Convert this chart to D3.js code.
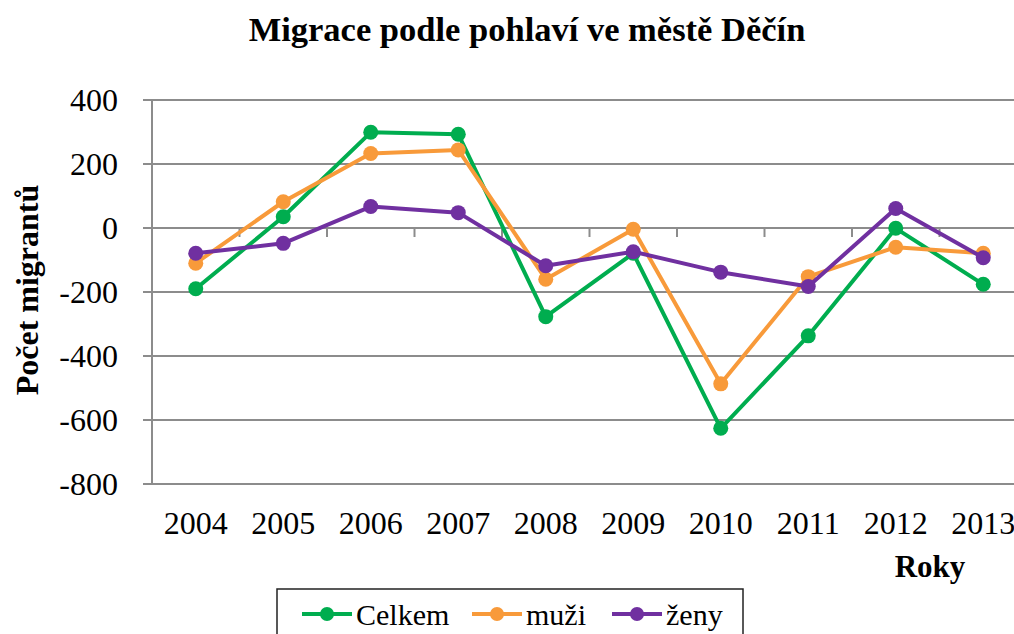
<html>
<head>
<meta charset="utf-8">
<script src="https://d3js.org/d3.v7.min.js"></script>
<style>
body { margin: 0; background: white; }
text { font-family: "Liberation Serif", "Times New Roman", serif; }
</style>
</head>
<body>
<svg width="1014" height="634" id="chart"></svg>
<script>

// data
var years = ["2004", "2005", "2006", "2007", "2008", "2009", "2010", "2011", "2012", "2013"];
var celkem = [-190, 35, 299, 293, -277, -79, -626, -337, -1, -176];
var muzi = [-110, 82, 233, 244, -160, -4, -487, -152, -60, -79];
var zeny = [-79, -48, 67, 48, -118, -74, -138, -183, 61, -93];
var yTicks = [400, 200, 0, -200, -400, -600, -800];

var series = [
  {name: "Celkem", values: celkem, color: "#00AD4F"},
  {name: "muži", values: muzi, color: "#F89A3A"},
  {name: "ženy", values: zeny, color: "#7030A0"}
];

var svg = d3.select("#chart");

var plotL = 152, plotR = 1027, plotT = 100, plotB = 484;

var x = d3.scaleBand()
  .domain(years)
  .range([plotL, plotR]);

var y = d3.scaleLinear()
  .domain([-800, 400])
  .range([plotB, plotT]);

// gridlines
svg.append("g")
  .selectAll("line")
  .data(yTicks)
  .enter().append("line")
  .attr("x1", plotL - 9)
  .attr("x2", plotR)
  .attr("y1", function(d) { return y(d); })
  .attr("y2", function(d) { return y(d); })
  .style("stroke", "#8c8c8c")
  .style("stroke-width", 2);

// y axis line
svg.append("line")
  .attr("x1", plotL).attr("x2", plotL)
  .attr("y1", plotT).attr("y2", plotB)
  .style("stroke", "#8c8c8c")
  .style("stroke-width", 2);

// x tick marks on the zero line
svg.append("g")
  .selectAll("line")
  .data(years.slice(1))
  .enter().append("line")
  .attr("x1", function(d) { return x(d); })
  .attr("x2", function(d) { return x(d); })
  .attr("y1", y(0))
  .attr("y2", y(0) + 9)
  .style("stroke", "#8c8c8c")
  .style("stroke-width", 2);

// y tick labels
svg.append("g")
  .selectAll("text")
  .data(yTicks)
  .enter().append("text")
  .attr("x", 118)
  .attr("y", function(d) { return y(d) + 11; })
  .attr("text-anchor", "end")
  .style("font-size", "32px")
  .text(function(d) { return d; });

// x tick labels
svg.append("g")
  .selectAll("text")
  .data(years)
  .enter().append("text")
  .attr("x", function(d) { return x(d) + x.bandwidth() / 2; })
  .attr("y", 534)
  .attr("text-anchor", "middle")
  .style("font-size", "32px")
  .text(function(d) { return d; });

var line = d3.line()
  .x(function(d, i) { return x(years[i]) + x.bandwidth() / 2; })
  .y(function(d) { return y(d); });

series.forEach(function(s) {
  var g = svg.append("g");
  g.append("path")
    .attr("d", line(s.values))
    .style("fill", "none")
    .style("stroke", s.color)
    .style("stroke-width", 4)
    .style("stroke-linejoin", "round");
  g.selectAll("circle")
    .data(s.values)
    .enter().append("circle")
    .attr("cx", function(d, i) { return x(years[i]) + x.bandwidth() / 2; })
    .attr("cy", function(d) { return y(d); })
    .attr("r", 7.5)
    .style("fill", s.color);
});

// titles
svg.append("text")
  .attr("x", 527)
  .attr("y", 41)
  .attr("text-anchor", "middle")
  .style("font-size", "34.5px")
  .style("font-weight", "bold")
  .text("Migrace podle pohlaví ve městě Děčín");

svg.append("text")
  .attr("transform", "translate(38,290) rotate(-90)")
  .attr("text-anchor", "middle")
  .style("font-size", "32px")
  .style("font-weight", "bold")
  .text("Počet migrantů");

svg.append("text")
  .attr("x", 930)
  .attr("y", 577)
  .attr("text-anchor", "middle")
  .style("font-size", "31px")
  .style("font-weight", "bold")
  .text("Roky");

// legend
svg.append("rect")
  .attr("x", 277).attr("y", 589)
  .attr("width", 466).attr("height", 60)
  .style("fill", "white")
  .style("stroke", "#222")
  .style("stroke-width", 1.5);

var legendX = [302, 472, 612];
series.forEach(function(s, i) {
  var lg = svg.append("g").attr("transform", "translate(" + legendX[i] + ",614)");
  lg.append("line")
    .attr("x1", 0).attr("x2", 50)
    .attr("y1", 0).attr("y2", 0)
    .style("stroke", s.color)
    .style("stroke-width", 4);
  lg.append("circle")
    .attr("cx", 25).attr("cy", 0).attr("r", 7)
    .style("fill", s.color);
  lg.append("text")
    .attr("x", 54).attr("y", 11)
    .style("font-size", "30px")
    .text(s.name);
});

</script>
</body>
</html>
